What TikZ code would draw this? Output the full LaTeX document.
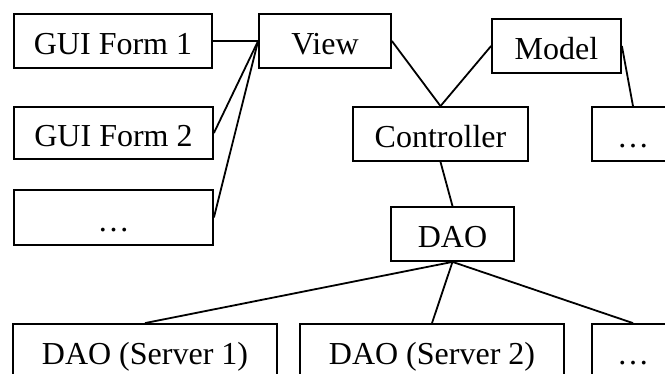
\documentclass[tikz,border=0pt]{standalone}
\usepackage{fontspec}
\setmainfont{Liberation Serif}
\begin{document}
\begin{tikzpicture}[x=1pt,y=-1pt,
  box/.style={draw, line width=1.8pt, inner sep=0pt, minimum height=54pt,
    text height=30pt, text depth=2pt, font=\fontsize{32}{38}\selectfont},
  link/.style={line width=1.8pt}]
\useasboundingbox (0,0) rectangle (665,374);
% upper row: forms, view, model
\node[box, minimum width=198pt] (gui1) at (113,41) {GUI Form 1};
\node[box, minimum width=132pt] (view) at (325,41) {View};
\node[box, minimum width=129pt] (model) at (556.5,46) {Model};
% middle row
\node[box, minimum width=199pt, minimum height=52pt] (gui2) at (113.5,133) {GUI Form 2};
\node[box, minimum width=175pt] (ctrl) at (440.5,134) {Controller};
\node[box, minimum width=82pt] (mdots) at (633,134) {\ldots};
\node[box, minimum width=199pt, minimum height=55pt] (gdots) at (113.5,217.5) {\ldots};
% data access layer
\node[box, minimum width=123pt] (dao) at (452.5,234) {DAO};
\node[box, minimum width=264pt] (s1) at (145,351) {DAO (Server 1)};
\node[box, minimum width=264pt] (s2) at (432,351) {DAO (Server 2)};
\node[box, minimum width=82pt] (sdots) at (633,351) {\ldots};
% connectors
\draw[link] (gui1.east) -- (view.west);
\draw[link] (gui2.east) -- (view.west);
\draw[link] (gdots.east) -- (view.west);
\draw[link] (view.east) -- (ctrl.north);
\draw[link] (model.west) -- (ctrl.north);
\draw[link] (model.east) -- (mdots.north);
\draw[link] (ctrl.south) -- (dao.north);
\draw[link] (dao.south) -- (s1.north);
\draw[link] (dao.south) -- (s2.north);
\draw[link] (dao.south) -- (sdots.north);
\end{tikzpicture}
\end{document}
